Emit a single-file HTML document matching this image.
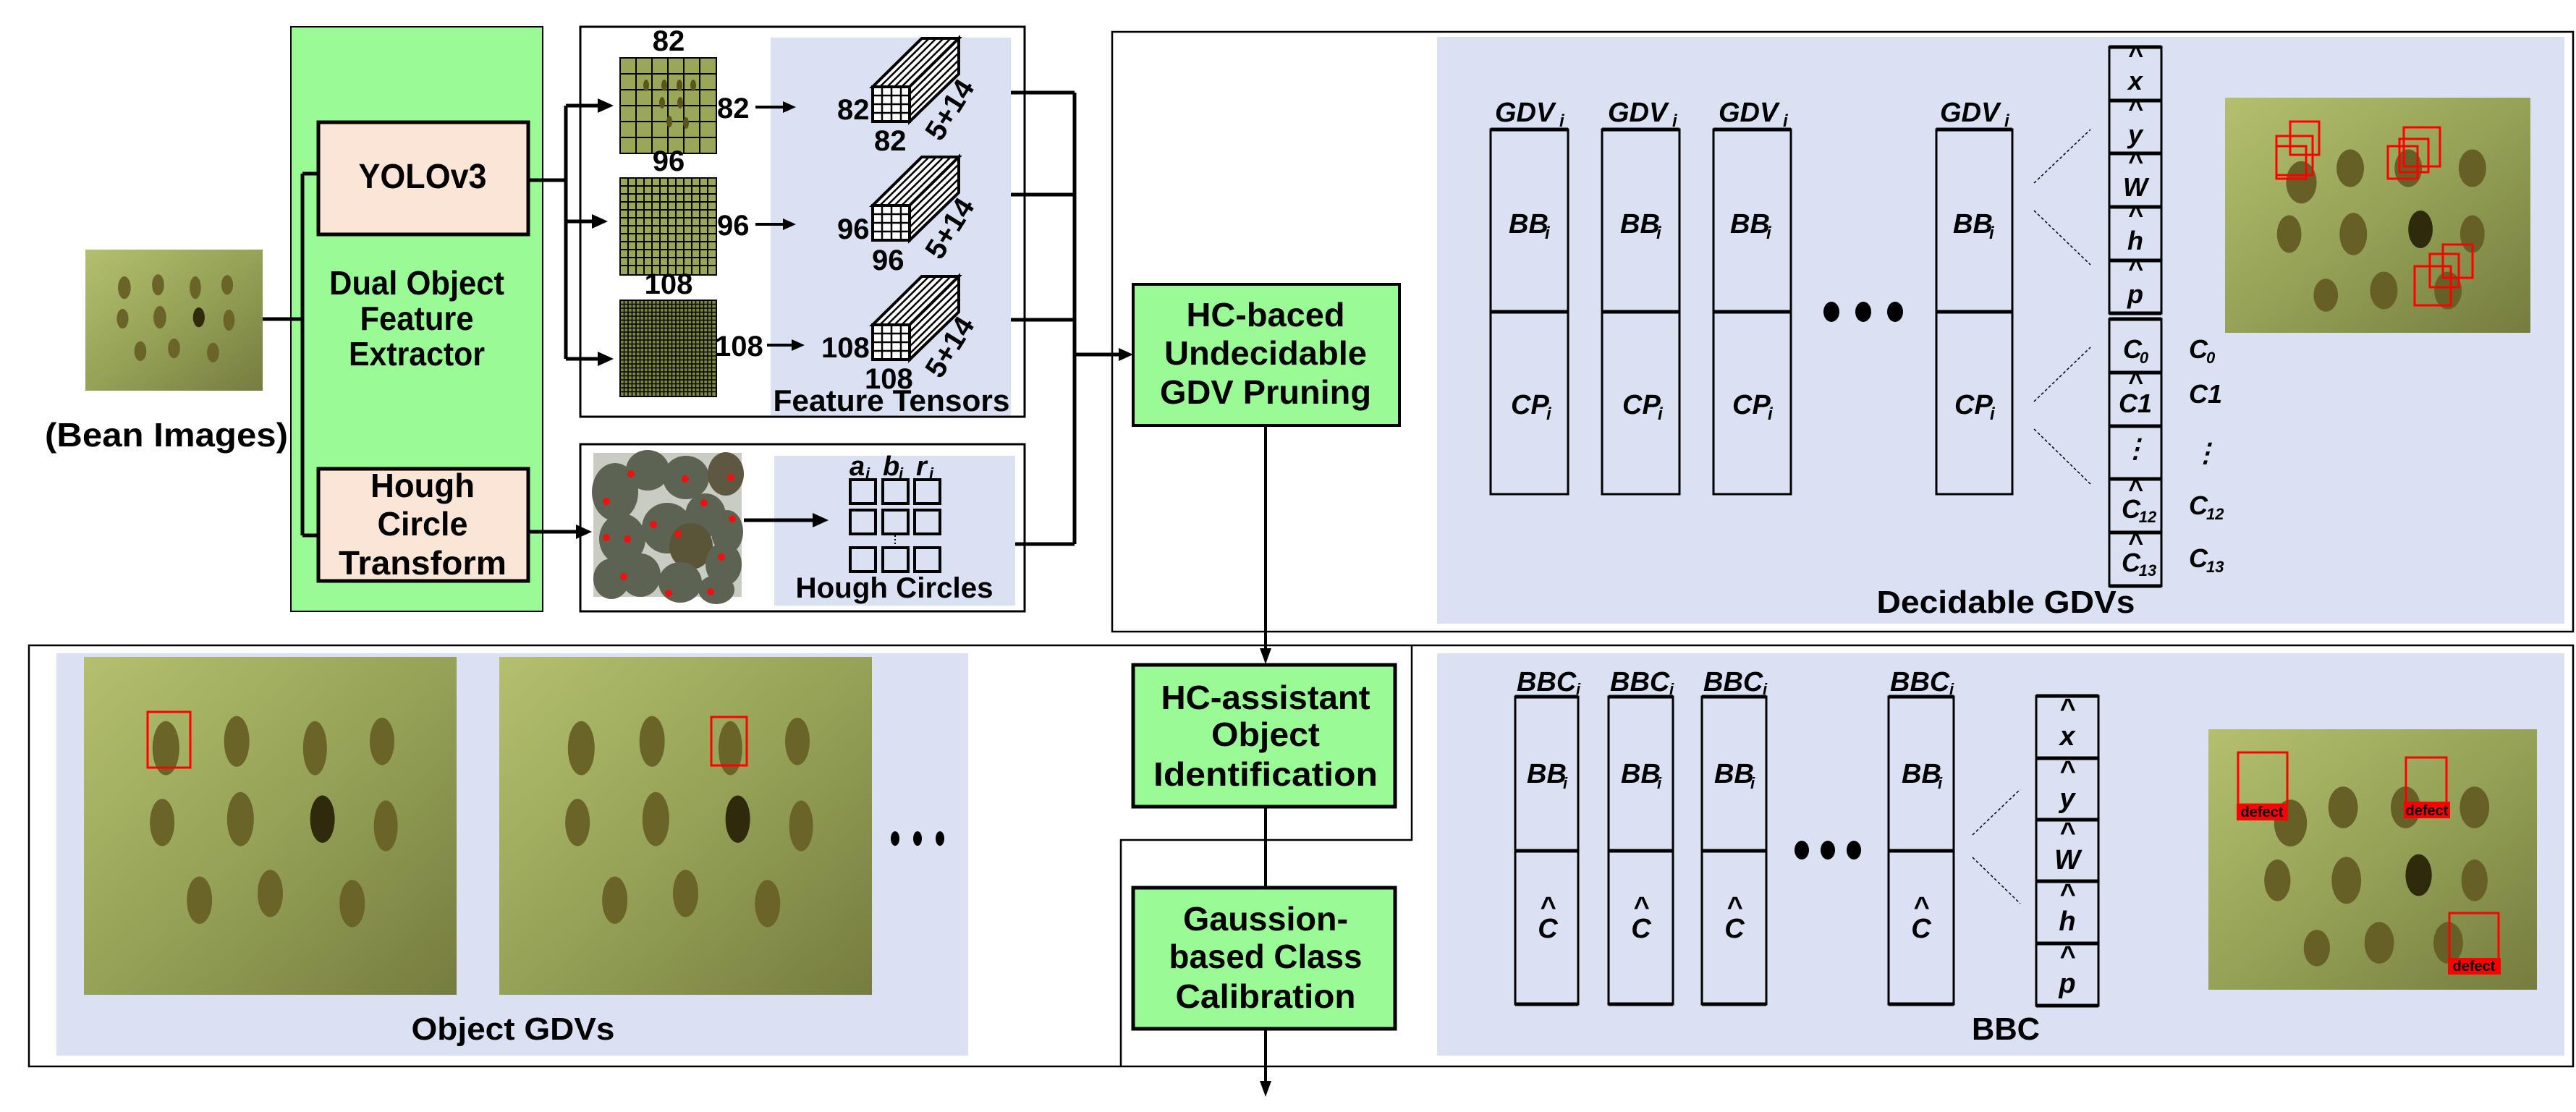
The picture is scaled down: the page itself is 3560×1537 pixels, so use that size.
<!DOCTYPE html>
<html><head><meta charset="utf-8"><style>
html,body{margin:0;padding:0;background:#fff}
svg{display:block}
text{font-family:"Liberation Sans Narrow","Liberation Sans",sans-serif;font-weight:bold;fill:#000}
.it{font-style:italic}
</style></head><body>
<svg width="3560" height="1537" viewBox="0 0 3560 1537" xmlns="http://www.w3.org/2000/svg">
<defs>
<linearGradient id="bg" x1="0" y1="0" x2="1" y2="1"><stop offset="0" stop-color="#b4c06e"/><stop offset="0.5" stop-color="#95a257"/><stop offset="1" stop-color="#767c3e"/></linearGradient>
<symbol id="beans" viewBox="0 0 100 100" preserveAspectRatio="none">
<rect width="100" height="100" fill="url(#bg)"/>
<g fill="#6a6428">
<ellipse cx="22" cy="27" rx="3.6" ry="8"/><ellipse cx="41" cy="25" rx="3.4" ry="7.5"/><ellipse cx="62" cy="27" rx="3.2" ry="8"/><ellipse cx="80" cy="25" rx="3.3" ry="7"/>
<ellipse cx="21" cy="49" rx="3.3" ry="7"/><ellipse cx="42" cy="48" rx="3.6" ry="8"/><ellipse cx="64" cy="48" rx="3.3" ry="7" fill="#2e2a0c"/><ellipse cx="81" cy="50" rx="3.2" ry="7.5"/>
<ellipse cx="31" cy="72" rx="3.4" ry="7"/><ellipse cx="50" cy="70" rx="3.4" ry="7"/><ellipse cx="72" cy="73" rx="3.4" ry="7"/>
</g></symbol>
<symbol id="beans2" viewBox="0 0 100 100" preserveAspectRatio="none">
<rect width="100" height="100" fill="url(#bg)"/>
<g fill="#665f26">
<ellipse cx="25" cy="36" rx="5" ry="9"/><ellipse cx="41" cy="30" rx="4.5" ry="8"/><ellipse cx="60" cy="30" rx="4.5" ry="8"/><ellipse cx="81" cy="30" rx="4.5" ry="8"/>
<ellipse cx="21" cy="58" rx="4" ry="8"/><ellipse cx="42" cy="58" rx="4.5" ry="9"/><ellipse cx="64" cy="56" rx="4" ry="8" fill="#2e2a0c"/><ellipse cx="81" cy="58" rx="4" ry="8"/>
<ellipse cx="33" cy="84" rx="4" ry="7"/><ellipse cx="52" cy="82" rx="4.5" ry="8"/><ellipse cx="73" cy="82" rx="4.5" ry="8"/>
</g></symbol>
</defs>

<!-- bean image left -->
<use href="#beans" x="118" y="345" width="245" height="195"/>
<text x="230" y="617" font-size="46" text-anchor="middle" textLength="336" lengthAdjust="spacingAndGlyphs">(Bean Images)</text>

<!-- green box -->
<rect x="402" y="37" width="348" height="808" fill="#9afa96" stroke="#000" stroke-width="2"/>
<g stroke="#000" stroke-width="5" fill="none">
<path d="M363,441 H418 M418,240 V740 M418,240 H440 M418,740 H440"/>
</g>
<rect x="440" y="169" width="290" height="155" fill="#fbe5d6" stroke="#000" stroke-width="5"/>
<rect x="440" y="648" width="290" height="155" fill="#fbe5d6" stroke="#000" stroke-width="5"/>
<text x="584" y="260" font-size="48" text-anchor="middle" textLength="177" lengthAdjust="spacingAndGlyphs">YOLOv3</text>
<text x="576" y="407" font-size="46" text-anchor="middle" textLength="242" lengthAdjust="spacingAndGlyphs">Dual Object</text>
<text x="576" y="456" font-size="46" text-anchor="middle" textLength="157" lengthAdjust="spacingAndGlyphs">Feature</text>
<text x="576" y="505" font-size="46" text-anchor="middle" textLength="188" lengthAdjust="spacingAndGlyphs">Extractor</text>
<text x="584" y="687" font-size="46" text-anchor="middle" textLength="144" lengthAdjust="spacingAndGlyphs">Hough</text>
<text x="584" y="740" font-size="46" text-anchor="middle" textLength="125" lengthAdjust="spacingAndGlyphs">Circle</text>
<text x="584" y="794" font-size="46" text-anchor="middle" textLength="232" lengthAdjust="spacingAndGlyphs">Transform</text>

<!-- feature box -->
<rect x="802" y="37" width="614" height="539" fill="#fff" stroke="#000" stroke-width="3"/>
<rect x="1065" y="52" width="332" height="522" fill="#dae1f2"/>
<g stroke="#000" stroke-width="2">
<rect x="857" y="80" width="133" height="132" fill="#9aa658"/>
<path d="M879,80V212M901,80V212M923,80V212M945,80V212M967,80V212M857,102H990M857,124H990M857,146H990M857,168H990M857,190H990"/>
<rect x="857" y="246" width="133" height="134" fill="#9aa658"/>
<path d="M868,246V380M879,246V380M890,246V380M901,246V380M912,246V380M923,246V380M934,246V380M945,246V380M956,246V380M967,246V380M978,246V380M857,257H990M857,268H990M857,279H990M857,290H990M857,301H990M857,312H990M857,323H990M857,334H990M857,345H990M857,356H990M857,367H990"/>
<rect x="857" y="415" width="133" height="133" fill="#7d8840"/>
</g>
<g stroke="#000" stroke-width="1.5">
<path d="M862.5,415V548M868,415V548M873.5,415V548M879,415V548M884.5,415V548M890,415V548M895.5,415V548M901,415V548M906.5,415V548M912,415V548M917.5,415V548M923,415V548M928.5,415V548M934,415V548M939.5,415V548M945,415V548M950.5,415V548M956,415V548M961.5,415V548M967,415V548M972.5,415V548M978,415V548M983.5,415V548"/>
<path d="M857,420.5H990M857,426H990M857,431.5H990M857,437H990M857,442.5H990M857,448H990M857,453.5H990M857,459H990M857,464.5H990M857,470H990M857,475.5H990M857,481H990M857,486.5H990M857,492H990M857,497.5H990M857,503H990M857,508.5H990M857,514H990M857,519.5H990M857,525H990M857,530.5H990M857,536H990M857,541.5H990"/>
</g>
<g fill="#5a5520"><ellipse cx="893" cy="118" rx="4" ry="8"/><ellipse cx="918" cy="118" rx="4" ry="8"/><ellipse cx="939" cy="118" rx="4" ry="8"/><ellipse cx="958" cy="118" rx="4" ry="8"/><ellipse cx="915" cy="142" rx="4" ry="8"/><ellipse cx="940" cy="142" rx="4" ry="8"/><ellipse cx="925" cy="168" rx="4" ry="8"/><ellipse cx="948" cy="170" rx="4" ry="8"/></g>
<text x="924" y="70" font-size="40" text-anchor="middle">82</text>
<text x="924" y="236" font-size="40" text-anchor="middle">96</text>
<text x="924" y="406" font-size="40" text-anchor="middle">108</text>
<text x="991" y="163" font-size="40">82</text>
<text x="991" y="325" font-size="40">96</text>
<text x="988" y="492" font-size="40">108</text>
<g stroke="#000" stroke-width="4" fill="none">
<path d="M1044,148H1085"/><path d="M1044,310H1085"/><path d="M1060,477H1097"/>
</g>
<g fill="#000">
<polygon points="1100,148 1082,140 1082,156"/><polygon points="1100,310 1082,302 1082,318"/><polygon points="1112,477 1094,469 1094,485"/>
</g>
<!-- YOLO arrows -->
<g stroke="#000" stroke-width="5" fill="none">
<path d="M730,249H782M782,146V496M782,146H828M782,306H820M782,496H828"/>
</g>
<g fill="#000">
<polygon points="848,146 826,136 826,156"/><polygon points="840,306 818,296 818,316"/><polygon points="848,496 826,486 826,506"/>
</g>
<!-- cubes -->
<g id="cube1" stroke="#000" stroke-width="4" fill="#fff">
<path d="M1206,120 L1274,53 L1325,53 L1325,102 L1257,168 L1257,120 Z"/>
<path d="M1206,120 L1274,53 L1325,53 L1257,120 Z"/>
<path d="M1257,120 L1325,53 L1325,102 L1257,168 Z"/>
<g stroke-width="2.5"><path d="M1216,120L1284,53M1226,120L1294,53M1236,120L1304,53M1246,120L1314,53M1257,130L1325,63M1257,140L1325,73M1257,150L1325,83M1257,160L1325,93"/></g>
<rect x="1206" y="120" width="51" height="48"/>
<path d="M1219,120V168M1232,120V168M1245,120V168M1206,132H1257M1206,144H1257M1206,156H1257" stroke-width="2.5"/>
</g>
<use href="#cube1" y="164"/>
<use href="#cube1" y="329"/>
<text x="1157" y="165" font-size="40">82</text>
<text x="1208" y="208" font-size="40">82</text>
<text x="1157" y="330" font-size="40">96</text>
<text x="1205" y="373" font-size="40">96</text>
<text x="1135" y="494" font-size="40">108</text>
<text x="1195" y="537" font-size="40">108</text>
<g font-size="40"><text transform="translate(1300,197) rotate(-58)">5+14</text><text transform="translate(1300,361) rotate(-58)">5+14</text><text transform="translate(1300,525) rotate(-58)">5+14</text></g>
<text x="1232" y="568" font-size="42" text-anchor="middle" textLength="327" lengthAdjust="spacingAndGlyphs">Feature Tensors</text>

<!-- hough box -->
<rect x="802" y="614" width="614" height="231" fill="#fff" stroke="#000" stroke-width="3"/>
<rect x="820" y="626" width="205" height="199" fill="#c9ccc3"/>
<g fill="#5c6352">
<ellipse cx="850" cy="680" rx="32" ry="40"/><ellipse cx="895" cy="650" rx="30" ry="28"/><ellipse cx="948" cy="660" rx="32" ry="30"/><ellipse cx="1003" cy="655" rx="25" ry="30" fill="#5e5842"/>
<ellipse cx="975" cy="712" rx="28" ry="30"/><ellipse cx="922" cy="730" rx="35" ry="35"/><ellipse cx="860" cy="745" rx="32" ry="35"/><ellipse cx="1005" cy="735" rx="22" ry="30"/>
<ellipse cx="955" cy="755" rx="30" ry="32" fill="#5a5438"/><ellipse cx="1000" cy="780" rx="25" ry="30"/><ellipse cx="845" cy="800" rx="25" ry="28"/><ellipse cx="885" cy="795" rx="28" ry="30"/><ellipse cx="940" cy="805" rx="30" ry="28"/><ellipse cx="990" cy="815" rx="25" ry="20"/>
</g>
<g fill="#f01010"><circle cx="872" cy="655" r="5"/><circle cx="947" cy="662" r="5"/><circle cx="1010" cy="660" r="5"/><circle cx="838" cy="693" r="5"/><circle cx="973" cy="695" r="5"/><circle cx="903" cy="725" r="5"/><circle cx="937" cy="738" r="5"/><circle cx="1012" cy="717" r="5"/><circle cx="867" cy="745" r="5"/><circle cx="997" cy="770" r="5"/><circle cx="862" cy="797" r="5"/><circle cx="924" cy="820" r="5"/><circle cx="982" cy="818" r="5"/><circle cx="838" cy="743" r="5"/></g>
<rect x="1070" y="630" width="333" height="207" fill="#dae1f2"/>
<g stroke="#000" stroke-width="5" fill="none">
<path d="M730,735H798"/><path d="M1028,719H1125"/>
</g>
<g fill="#000"><polygon points="818,735 796,725 796,745"/><polygon points="1145,719 1123,709 1123,729"/></g>
<g stroke="#000" stroke-width="4" fill="none">
<rect x="1175" y="663" width="35" height="33"/><rect x="1220" y="663" width="35" height="33"/><rect x="1264" y="663" width="35" height="33"/>
<rect x="1175" y="705" width="35" height="33"/><rect x="1220" y="705" width="35" height="33"/><rect x="1264" y="705" width="35" height="33"/>
<rect x="1175" y="757" width="35" height="33"/><rect x="1220" y="757" width="35" height="33"/><rect x="1264" y="757" width="35" height="33"/>
</g>
<path d="M1237,740V755" stroke="#000" stroke-width="2" stroke-dasharray="2,3"/>
<g font-size="38" class="it"><text x="1174" y="657" class="it">a</text><text x="1196" y="662" font-size="22" class="it">i</text><text x="1220" y="657" class="it">b</text><text x="1242" y="662" font-size="22" class="it">i</text><text x="1266" y="657" class="it">r</text><text x="1284" y="662" font-size="22" class="it">i</text></g>
<text x="1236" y="826" font-size="40" text-anchor="middle" textLength="273" lengthAdjust="spacingAndGlyphs">Hough Circles</text>

<!-- merge lines -->
<g stroke="#000" stroke-width="5" fill="none">
<path d="M1397,128H1485M1397,269H1485M1397,442H1485M1403,752H1485M1485,128V752M1485,490H1546"/>
</g>
<polygon points="1566,490 1546,481 1546,499" fill="#000"/>

<!-- top right box -->
<rect x="1537" y="44" width="2019" height="829" fill="none" stroke="#000" stroke-width="2.5"/>
<rect x="1986" y="51" width="1558" height="811" fill="#dae1f2"/>
<rect x="1566" y="393" width="368" height="195" fill="#9afa96" stroke="#000" stroke-width="4"/>
<text x="1749" y="451" font-size="46" text-anchor="middle" textLength="219" lengthAdjust="spacingAndGlyphs">HC-baced</text>
<text x="1749" y="504" font-size="46" text-anchor="middle" textLength="280" lengthAdjust="spacingAndGlyphs">Undecidable</text>
<text x="1749" y="558" font-size="46" text-anchor="middle" textLength="292" lengthAdjust="spacingAndGlyphs">GDV Pruning</text>

<!-- GDV columns -->
<g stroke="#000" stroke-width="3" fill="none">
<rect x="2060" y="179" width="107" height="504"/><rect x="2214" y="179" width="107" height="504"/><rect x="2368" y="179" width="107" height="504"/><rect x="2676" y="179" width="105" height="504"/>
</g>
<g stroke="#000" stroke-width="5"><path d="M2060,431H2167M2214,431H2321M2368,431H2475M2676,431H2781M2060,179H2167M2214,179H2321M2368,179H2475M2676,179H2781"/></g>
<g font-size="38" class="it">
<text x="2066" y="168" class="it">GDV</text><text x="2222" y="168" class="it">GDV</text><text x="2375" y="168" class="it">GDV</text><text x="2681" y="168" class="it">GDV</text>
<text x="2085" y="322" class="it">BB</text><text x="2239" y="322" class="it">BB</text><text x="2391" y="322" class="it">BB</text><text x="2699" y="322" class="it">BB</text>
<text x="2088" y="572" class="it">CP</text><text x="2242" y="572" class="it">CP</text><text x="2394" y="572" class="it">CP</text><text x="2701" y="572" class="it">CP</text>
</g>
<g font-size="24" class="it">
<text x="2155" y="175" class="it">i</text><text x="2311" y="175" class="it">i</text><text x="2464" y="175" class="it">i</text><text x="2770" y="175" class="it">i</text>
<text x="2135" y="330" class="it">i</text><text x="2289" y="330" class="it">i</text><text x="2441" y="330" class="it">i</text><text x="2749" y="330" class="it">i</text>
<text x="2137" y="580" class="it">i</text><text x="2291" y="580" class="it">i</text><text x="2443" y="580" class="it">i</text><text x="2750" y="580" class="it">i</text>
</g>
<g fill="#000"><ellipse cx="2531" cy="431" rx="11" ry="14"/><ellipse cx="2575" cy="431" rx="11" ry="14"/><ellipse cx="2619" cy="431" rx="11" ry="14"/></g>
<g stroke="#000" stroke-width="1.5" stroke-dasharray="4,3"><path d="M2811,253L2889,179M2811,291L2889,366M2811,555L2889,480M2811,593L2889,669"/></g>
<g stroke="#000" stroke-width="3" fill="none">
<rect x="2915" y="65" width="72" height="368"/><rect x="2915" y="441" width="72" height="369"/>
</g>
<g stroke="#000" stroke-width="5"><path d="M2915,65H2987M2915,139H2987M2915,212H2987M2915,286H2987M2915,360H2987M2915,433H2987M2915,441H2987M2915,515H2987M2915,589H2987M2915,662H2987M2915,736H2987M2915,810H2987"/></g>
<g font-size="36" class="it" text-anchor="middle">
<text x="2951" y="88" class="it">^</text><text x="2951" y="124" class="it">x</text>
<text x="2951" y="162" class="it">^</text><text x="2951" y="198" class="it">y</text>
<text x="2951" y="235" class="it">^</text><text x="2951" y="271" class="it">W</text>
<text x="2951" y="309" class="it">^</text><text x="2951" y="345" class="it">h</text>
<text x="2951" y="383" class="it">^</text><text x="2951" y="419" class="it">p</text>
<text x="2947" y="495" class="it">C</text><text x="2963" y="502" font-size="22" class="it">0</text>
<text x="2951" y="540" class="it">^</text><text x="2951" y="570" class="it">C1</text>
<text x="2951" y="632" class="it">⋮</text>
<text x="2951" y="688" class="it">^</text><text x="2945" y="716" class="it">C</text><text x="2968" y="722" font-size="22" class="it">12</text>
<text x="2951" y="762" class="it">^</text><text x="2945" y="790" class="it">C</text><text x="2968" y="796" font-size="22" class="it">13</text>
</g>
<g font-size="36" class="it">
<text x="3025" y="495" class="it">C</text><text x="3049" y="502" font-size="22" class="it">0</text>
<text x="3025" y="557" class="it">C1</text>
<text x="3030" y="638" class="it">⋮</text>
<text x="3025" y="711" class="it">C</text><text x="3049" y="718" font-size="22" class="it">12</text>
<text x="3025" y="784" class="it">C</text><text x="3049" y="791" font-size="22" class="it">13</text>
</g>
<text x="2772" y="847" font-size="44" text-anchor="middle" textLength="357" lengthAdjust="spacingAndGlyphs">Decidable GDVs</text>
<use href="#beans2" x="3075" y="135" width="422" height="325"/>
<g stroke="#ff0000" stroke-width="3" fill="none">
<rect x="3165" y="168" width="40" height="46"/><rect x="3146" y="188" width="50" height="54"/><rect x="3146" y="202" width="41" height="45"/>
<rect x="3322" y="176" width="50" height="54"/><rect x="3316" y="192" width="40" height="46"/><rect x="3300" y="202" width="41" height="45"/>
<rect x="3376" y="338" width="41" height="46"/><rect x="3358" y="351" width="40" height="46"/><rect x="3337" y="368" width="50" height="54"/>
</g>

<!-- vertical flow -->
<path d="M1749,588V898" stroke="#000" stroke-width="4" fill="none"/>
<polygon points="1749,918 1741,896 1757,896" fill="#000"/>
<path d="M1749,1115V1227" stroke="#000" stroke-width="4"/>
<path d="M1749,1422V1496" stroke="#000" stroke-width="4" fill="none"/>
<polygon points="1749,1516 1741,1494 1757,1494" fill="#000"/>

<!-- bottom outer box -->
<g stroke="#000" stroke-width="2.5" fill="none">
<rect x="40" y="892" width="3516" height="582"/>
<path d="M1951,892V1161H1549V1474"/>
</g>
<rect x="78" y="903" width="1260" height="556" fill="#dae1f2"/>
<use href="#beans" x="116" y="908" width="515" height="467"/>
<use href="#beans" x="690" y="908" width="515" height="467"/>
<g stroke="#ff0000" stroke-width="3" fill="none"><rect x="204" y="984" width="59" height="77"/><rect x="983" y="991" width="49" height="67"/></g>
<g fill="#000"><ellipse cx="1237" cy="1159" rx="6" ry="10"/><ellipse cx="1268" cy="1159" rx="6" ry="10"/><ellipse cx="1299" cy="1159" rx="6" ry="10"/></g>
<text x="709" y="1437" font-size="44" text-anchor="middle" textLength="281" lengthAdjust="spacingAndGlyphs">Object GDVs</text>

<rect x="1566" y="919" width="362" height="196" fill="#9afa96" stroke="#000" stroke-width="5"/>
<text x="1749" y="980" font-size="46" text-anchor="middle" textLength="289" lengthAdjust="spacingAndGlyphs">HC-assistant</text>
<text x="1749" y="1031" font-size="46" text-anchor="middle" textLength="150" lengthAdjust="spacingAndGlyphs">Object</text>
<text x="1749" y="1086" font-size="46" text-anchor="middle" textLength="310" lengthAdjust="spacingAndGlyphs">Identification</text>
<rect x="1566" y="1227" width="362" height="195" fill="#9afa96" stroke="#000" stroke-width="5"/>
<text x="1749" y="1286" font-size="46" text-anchor="middle" textLength="228" lengthAdjust="spacingAndGlyphs">Gaussion-</text>
<text x="1749" y="1338" font-size="46" text-anchor="middle" textLength="267" lengthAdjust="spacingAndGlyphs">based Class</text>
<text x="1749" y="1393" font-size="46" text-anchor="middle" textLength="249" lengthAdjust="spacingAndGlyphs">Calibration</text>

<!-- BBC panel -->
<rect x="1986" y="903" width="1558" height="556" fill="#dae1f2"/>
<g stroke="#000" stroke-width="3" fill="none">
<rect x="2094" y="963" width="87" height="425"/><rect x="2223" y="963" width="89" height="425"/><rect x="2352" y="963" width="89" height="425"/><rect x="2610" y="963" width="90" height="425"/>
</g>
<g stroke="#000" stroke-width="5"><path d="M2094,1176H2181M2223,1176H2312M2352,1176H2441M2610,1176H2700M2094,963H2181M2223,963H2312M2352,963H2441M2610,963H2700M2094,1388H2181M2223,1388H2312M2352,1388H2441M2610,1388H2700"/></g>
<g font-size="38" class="it">
<text x="2096" y="955" class="it">BBC</text><text x="2225" y="955" class="it">BBC</text><text x="2354" y="955" class="it">BBC</text><text x="2612" y="955" class="it">BBC</text>
<text x="2110" y="1082" class="it">BB</text><text x="2240" y="1082" class="it">BB</text><text x="2369" y="1082" class="it">BB</text><text x="2628" y="1082" class="it">BB</text>
</g>
<g font-size="22" class="it"><text x="2178" y="960" class="it">i</text><text x="2307" y="960" class="it">i</text><text x="2436" y="960" class="it">i</text><text x="2694" y="960" class="it">i</text>
<text x="2160" y="1090" class="it">i</text><text x="2290" y="1090" class="it">i</text><text x="2419" y="1090" class="it">i</text><text x="2678" y="1090" class="it">i</text></g>
<g font-size="38" class="it" text-anchor="middle">
<text x="2139" y="1266" class="it">^</text><text x="2139" y="1296" class="it">C</text>
<text x="2268" y="1266" class="it">^</text><text x="2268" y="1296" class="it">C</text>
<text x="2397" y="1266" class="it">^</text><text x="2397" y="1296" class="it">C</text>
<text x="2655" y="1266" class="it">^</text><text x="2655" y="1296" class="it">C</text>
</g>
<g fill="#000"><ellipse cx="2490" cy="1175" rx="10" ry="13"/><ellipse cx="2526" cy="1175" rx="10" ry="13"/><ellipse cx="2562" cy="1175" rx="10" ry="13"/></g>
<g stroke="#000" stroke-width="1.5" stroke-dasharray="4,3"><path d="M2726,1154L2792,1091M2726,1185L2792,1249"/></g>
<rect x="2814" y="962" width="86" height="428" fill="none" stroke="#000" stroke-width="3"/>
<g stroke="#000" stroke-width="5"><path d="M2814,962H2900M2814,1048H2900M2814,1133H2900M2814,1218H2900M2814,1304H2900M2814,1390H2900"/></g>
<g font-size="38" class="it" text-anchor="middle">
<text x="2857" y="992" class="it">^</text><text x="2857" y="1030" class="it">x</text>
<text x="2857" y="1078" class="it">^</text><text x="2857" y="1116" class="it">y</text>
<text x="2857" y="1163" class="it">^</text><text x="2857" y="1201" class="it">W</text>
<text x="2857" y="1248" class="it">^</text><text x="2857" y="1286" class="it">h</text>
<text x="2857" y="1334" class="it">^</text><text x="2857" y="1372" class="it">p</text>
</g>
<text x="2772" y="1437" font-size="44" text-anchor="middle" textLength="94" lengthAdjust="spacingAndGlyphs">BBC</text>
<use href="#beans2" x="3052" y="1008" width="454" height="360"/>
<g stroke="#ff0000" stroke-width="3" fill="none"><rect x="3093" y="1040" width="68" height="72"/><rect x="3325" y="1047" width="56" height="65"/><rect x="3385" y="1262" width="68" height="64"/></g>
<g fill="#ff0000"><rect x="3091" y="1111" width="71" height="23"/><rect x="3322" y="1108" width="64" height="23"/><rect x="3383" y="1324" width="73" height="23"/></g>
<g font-size="20" fill="#fff" text-anchor="middle"><text x="3126" y="1129" fill="#fff">defect</text><text x="3354" y="1127" fill="#fff">defect</text><text x="3419" y="1342" fill="#fff">defect</text></g>
</svg>
</body></html>
